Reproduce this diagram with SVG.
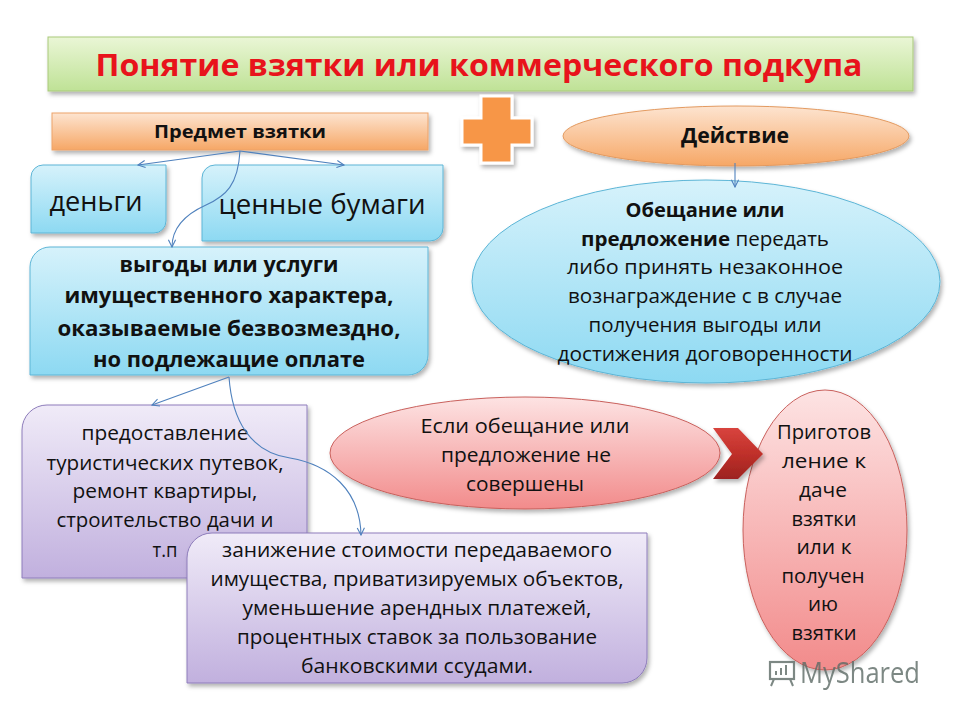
<svg xmlns="http://www.w3.org/2000/svg" width="960" height="720" viewBox="0 0 960 720">
<defs>
<style>
text{font-family:"Open Sans","Noto Sans","DejaVu Sans",sans-serif;fill:#111;text-anchor:middle}
.b{font-weight:bold}
.t{font-size:20px}
.conn{fill:none;stroke:#4f81bd;stroke-width:1.1}
</style>
<linearGradient id="gGreen" x1="0" y1="0" x2="0" y2="1"><stop offset="0" stop-color="#eaf6d6"/><stop offset="1" stop-color="#bfe296"/></linearGradient>
<linearGradient id="gOrange" x1="0" y1="0" x2="0" y2="1"><stop offset="0" stop-color="#fde4d0"/><stop offset="1" stop-color="#f6a766"/></linearGradient>
<linearGradient id="gBlue" x1="0" y1="0" x2="0" y2="1"><stop offset="0" stop-color="#d6f2fb"/><stop offset="1" stop-color="#8dd9f2"/></linearGradient>
<linearGradient id="gPurple" x1="0" y1="0" x2="0" y2="1"><stop offset="0" stop-color="#f0ebf8"/><stop offset="1" stop-color="#c1b0de"/></linearGradient>
<linearGradient id="gPink" x1="0" y1="0" x2="0" y2="1"><stop offset="0" stop-color="#fde3e3"/><stop offset="1" stop-color="#f28b8b"/></linearGradient>
<linearGradient id="gRed" x1="0" y1="0" x2="0" y2="1"><stop offset="0" stop-color="#d8443e"/><stop offset="0.5" stop-color="#c0302a"/><stop offset="1" stop-color="#9c2320"/></linearGradient>
<filter id="sh" x="-10%" y="-10%" width="125%" height="130%"><feDropShadow dx="2" dy="3" stdDeviation="2" flood-color="#000" flood-opacity="0.3"/></filter>
<marker id="arr" viewBox="0 0 10 10" refX="9" refY="5" markerWidth="9" markerHeight="9" orient="auto" markerUnits="userSpaceOnUse"><path d="M1,1 L9,5 L1,9" fill="none" stroke="#4f81bd" stroke-width="1.2"/></marker>
</defs>
<rect width="960" height="720" fill="#fff"/>

<g id="title">
<rect x="48" y="37" width="865" height="54" fill="url(#gGreen)" stroke="#a9c97a" stroke-width="1" filter="url(#sh)"/>
<text x="479" y="76" class="b" style="font-size:31px;fill:#e8131b" textLength="767" lengthAdjust="spacingAndGlyphs">Понятие  взятки или  коммерческого подкупа</text>
</g>

<g id="predmet">
<rect x="52" y="113" width="376" height="37" fill="url(#gOrange)" stroke="#eda36a" stroke-width="1" filter="url(#sh)"/>
<text x="240" y="138" class="b" style="font-size:18px" textLength="172" lengthAdjust="spacingAndGlyphs">Предмет взятки</text>
</g>

<g id="plus">
<path d="M481,96 H512 V118 H532 V145 H512 V163 H481 V145 H462 V118 H481 Z" fill="#f79646" stroke="#fff" stroke-width="3" filter="url(#sh)"/>
</g>

<g id="deystvie">
<ellipse cx="736" cy="136" rx="173" ry="30" fill="url(#gOrange)" stroke="#e39a60" stroke-width="1" filter="url(#sh)"/>
<text x="735" y="143" class="b" style="font-size:22px" textLength="108" lengthAdjust="spacingAndGlyphs">Действие</text>
</g>

<g id="obeshchanie">
<ellipse cx="706" cy="281.5" rx="234" ry="101.5" fill="url(#gBlue)" stroke="#5cb5d6" stroke-width="1" filter="url(#sh)"/>
<g class="t">
<text x="705" y="217" class="b" textLength="159" lengthAdjust="spacingAndGlyphs">Обещание  или</text>
<text x="705" y="246" textLength="248" lengthAdjust="spacingAndGlyphs"><tspan class="b">предложение</tspan>  передать</text>
<text x="705" y="274" textLength="276" lengthAdjust="spacingAndGlyphs">либо  принять  незаконное</text>
<text x="705" y="303" textLength="274" lengthAdjust="spacingAndGlyphs">вознаграждение с в случае</text>
<text x="705" y="332" textLength="233" lengthAdjust="spacingAndGlyphs">получения выгоды или</text>
<text x="705" y="361" textLength="295" lengthAdjust="spacingAndGlyphs">достижения договоренности</text>
</g>
</g>

<g id="dengi">
<path d="M43,165 L166,165 L166,221 A12,12 0 0 1 154,233 L31,233 L31,177 A12,12 0 0 1 43,165 Z" fill="url(#gBlue)" stroke="#5cb5d6" stroke-width="1" filter="url(#sh)"/>
<text x="96" y="211" style="font-size:28px" textLength="93" lengthAdjust="spacingAndGlyphs">деньги</text>
</g>

<g id="bumagi">
<path d="M215,165 L443,165 L443,228 A13,13 0 0 1 430,241 L202,241 L202,178 A13,13 0 0 1 215,165 Z" fill="url(#gBlue)" stroke="#5cb5d6" stroke-width="1" filter="url(#sh)"/>
<text x="322" y="214" style="font-size:28px" textLength="207" lengthAdjust="spacingAndGlyphs">ценные бумаги</text>
</g>

<g id="vygody">
<path d="M50,247 L428,247 L428,355 A20,20 0 0 1 408,375 L30,375 L30,267 A20,20 0 0 1 50,247 Z" fill="url(#gBlue)" stroke="#5cb5d6" stroke-width="1" filter="url(#sh)"/>
<g class="b" style="font-size:22px">
<text x="229" y="272" textLength="219" lengthAdjust="spacingAndGlyphs">выгоды или услуги</text>
<text x="229" y="303" textLength="329" lengthAdjust="spacingAndGlyphs">имущественного характера,</text>
<text x="229" y="336" textLength="343" lengthAdjust="spacingAndGlyphs">оказываемые безвозмездно,</text>
<text x="229" y="367" textLength="272" lengthAdjust="spacingAndGlyphs">но подлежащие оплате</text>
</g>
</g>

<g id="predostavlenie">
<path d="M47,405 L307,405 L307,553 A25,25 0 0 1 282,578 L22,578 L22,430 A25,25 0 0 1 47,405 Z" fill="url(#gPurple)" stroke="#8e7dbb" stroke-width="1" filter="url(#sh)"/>
<g style="font-size:19.5px">
<text x="165" y="440" textLength="167" lengthAdjust="spacingAndGlyphs">предоставление</text>
<text x="165" y="470" textLength="237" lengthAdjust="spacingAndGlyphs">туристических  путевок,</text>
<text x="165" y="498" textLength="185" lengthAdjust="spacingAndGlyphs">ремонт квартиры,</text>
<text x="165" y="527" textLength="217" lengthAdjust="spacingAndGlyphs">строительство дачи и</text>
<text x="165" y="557" textLength="25" lengthAdjust="spacingAndGlyphs">т.п</text>
</g>
</g>

<g id="zanizhenie">
<path d="M212,533 L647,533 L647,658 A25,25 0 0 1 622,683 L187,683 L187,558 A25,25 0 0 1 212,533 Z" fill="url(#gPurple)" stroke="#8e7dbb" stroke-width="1" filter="url(#sh)"/>
<g style="font-size:20px">
<text x="417" y="557" textLength="390" lengthAdjust="spacingAndGlyphs">занижение стоимости передаваемого</text>
<text x="417" y="586" textLength="413" lengthAdjust="spacingAndGlyphs">имущества, приватизируемых объектов,</text>
<text x="417" y="615" textLength="349" lengthAdjust="spacingAndGlyphs">уменьшение арендных платежей,</text>
<text x="417" y="644" textLength="360" lengthAdjust="spacingAndGlyphs">процентных ставок за пользование</text>
<text x="417" y="673" textLength="232" lengthAdjust="spacingAndGlyphs">банковскими ссудами.</text>
</g>
</g>

<g id="esli">
<ellipse cx="525" cy="453" rx="195" ry="56" fill="url(#gPink)" stroke="#c9605c" stroke-width="1" filter="url(#sh)"/>
<g style="font-size:19.5px">
<text x="525" y="433" textLength="209" lengthAdjust="spacingAndGlyphs">Если  обещание  или</text>
<text x="526" y="462" textLength="170" lengthAdjust="spacingAndGlyphs">предложение не</text>
<text x="525" y="491" textLength="118" lengthAdjust="spacingAndGlyphs">совершены</text>
</g>
</g>

<g id="prigotovlenie">
<ellipse cx="825" cy="530" rx="82" ry="140" fill="url(#gPink)" stroke="#c9605c" stroke-width="1" filter="url(#sh)"/>
<g style="font-size:20px">
<text x="824" y="439" textLength="94" lengthAdjust="spacingAndGlyphs">Приготов</text>
<text x="824" y="468" textLength="84" lengthAdjust="spacingAndGlyphs">ление  к</text>
<text x="823" y="497" textLength="48" lengthAdjust="spacingAndGlyphs">даче</text>
<text x="824" y="526" textLength="65" lengthAdjust="spacingAndGlyphs">взятки</text>
<text x="824" y="554" textLength="55" lengthAdjust="spacingAndGlyphs">или к</text>
<text x="823" y="583" textLength="83" lengthAdjust="spacingAndGlyphs">получен</text>
<text x="823" y="611" textLength="30" lengthAdjust="spacingAndGlyphs">ию</text>
<text x="824" y="640" textLength="65" lengthAdjust="spacingAndGlyphs">взятки</text>
</g>
</g>

<g id="chevron">
<path d="M713,428 L738,428 L763,454 L738,479 L713,479 L732,454 Z" fill="url(#gRed)" filter="url(#sh)"/>
</g>

<g id="connectors">
<path class="conn" d="M240,151 L138,165" marker-end="url(#arr)"/>
<path class="conn" d="M240,151 L344,165" marker-end="url(#arr)"/>
<path class="conn" d="M240,151 C238,185 226,196 206,205 C186,214 172,228 172,247" marker-end="url(#arr)"/>
<path class="conn" d="M735,163 L735,187" marker-end="url(#arr)"/>
<path class="conn" d="M229,377 L152,405" marker-end="url(#arr)"/>
<path class="conn" d="M229,377 C232,420 250,452 290,458 C330,465 360,490 361,535" marker-end="url(#arr)"/>
</g>

<g id="watermark" opacity="0.8">
<rect x="770" y="662" width="24" height="17" fill="none" stroke="#5d6b66" stroke-width="2.2"/>
<path d="M776,675 V671 M781,675 V668 M786,675 V665 M774,679 L771,686 M790,679 L793,686" stroke="#5d6b66" stroke-width="2" fill="none"/>
<text x="860" y="683" style="font-size:29px;fill:#5d6b66" textLength="120" lengthAdjust="spacingAndGlyphs">MyShared</text>
</g>
</svg>
